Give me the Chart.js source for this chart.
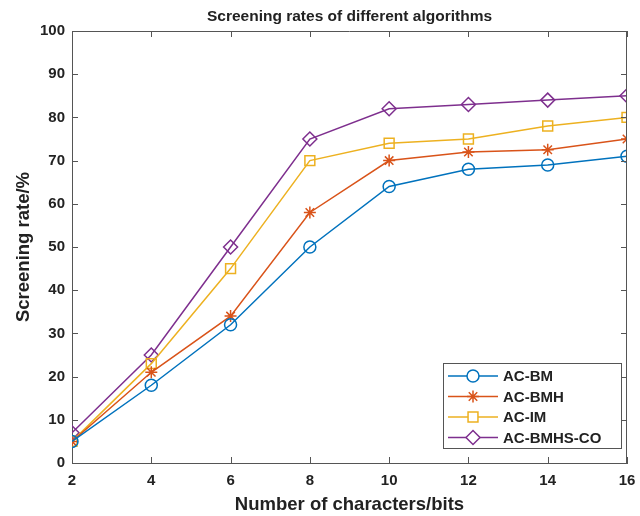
<!DOCTYPE html>
<html>
<head>
<meta charset="utf-8">
<script src="https://cdn.jsdelivr.net/npm/chart.js@4/dist/chart.umd.min.js"></script>
<style>
  html, body { margin: 0; padding: 0; background: #fff; }
  #wrap { width: 640px; height: 516px; }
</style>
</head>
<body>
<div id="wrap"><canvas id="chart" width="640" height="516"></canvas></div>
<script>
const chars = [2, 4, 6, 8, 10, 12, 14, 16];
const acBM = [5, 18, 32, 50, 64, 68, 69, 71];
const acBMH = [5, 21, 34, 58, 70, 72, 72.5, 75];
const acIM = [5, 23, 45, 70, 74, 75, 78, 80];
const acBMHSCO = [7, 25, 50, 75, 82, 83, 84, 85];

const FONT = "'Liberation Sans', Arial, sans-serif";
const AXIS = "#555";
const TEXT = "#222";

const series = [
  { label: "AC-BM", data: acBM, color: "#0072BD", style: "circle", r: 6 },
  { label: "AC-BMH", data: acBMH, color: "#D95319", style: "star", r: 6 },
  { label: "AC-IM", data: acIM, color: "#EDB120", style: "rect", r: 7 },
  { label: "AC-BMHS-CO", data: acBMHSCO, color: "#7E2F8E", style: "rectRot", r: 7 }
];

// box, inward ticks, title and legend the matlab way
const matlabAxes = {
  id: "matlabAxes",
  afterDraw(chart) {
    const ctx = chart.ctx;
    const a = chart.chartArea;
    const xs = chart.scales.x, ys = chart.scales.y;
    ctx.save();
    ctx.strokeStyle = AXIS;
    ctx.lineWidth = 1;
    ctx.beginPath();
    ctx.moveTo(a.left, a.top + 0.5); ctx.lineTo(a.right, a.top + 0.5);
    ctx.moveTo(a.right - 0.5, a.top); ctx.lineTo(a.right - 0.5, a.bottom);
    xs.ticks.forEach(t => {
      const px = Math.round(xs.getPixelForValue(t.value)) + 0.5;
      ctx.moveTo(px, a.bottom); ctx.lineTo(px, a.bottom - 6);
      ctx.moveTo(px, a.top); ctx.lineTo(px, a.top + 6);
    });
    ys.ticks.forEach(t => {
      const py = Math.round(ys.getPixelForValue(t.value)) + 0.5;
      ctx.moveTo(a.left, py); ctx.lineTo(a.left + 6, py);
      ctx.moveTo(a.right, py); ctx.lineTo(a.right - 6, py);
    });
    ctx.stroke();

    ctx.fillStyle = TEXT;
    ctx.font = "bold 15.5px " + FONT;
    ctx.textAlign = "center";
    ctx.textBaseline = "middle";
    ctx.fillText("Screening rates of different algorithms", (a.left + a.right) / 2, 17);

    // legend box
    const bx = a.right - 184, by = a.bottom - 100, bw = 178, bh = 85;
    ctx.fillStyle = "#fff";
    ctx.fillRect(bx, by, bw, bh);
    ctx.strokeStyle = AXIS;
    ctx.strokeRect(bx + 0.5, by + 0.5, bw, bh);
    ctx.font = "bold 15px " + FONT;
    ctx.textAlign = "left";
    series.forEach((s, i) => {
      const y = by + 13 + i * 20.5;
      ctx.strokeStyle = s.color;
      ctx.lineWidth = 1.5;
      ctx.beginPath();
      ctx.moveTo(bx + 5, y); ctx.lineTo(bx + 55, y);
      ctx.stroke();
      ctx.fillStyle = "#fff";
      Chart.helpers.drawPoint(ctx, {
        pointStyle: s.style, radius: s.r, rotation: 0, borderWidth: 1.5
      }, bx + 30, y);
      ctx.fillStyle = TEXT;
      ctx.fillText(s.label, bx + 60, y + 1);
    });
    ctx.restore();
  }
};

new Chart(document.getElementById("chart"), {
  type: "line",
  data: {
    datasets: series.map(s => ({
      label: s.label,
      data: chars.map((c, i) => ({ x: c, y: s.data[i] })),
      borderColor: s.color,
      borderWidth: 1.5,
      backgroundColor: "transparent",
      pointStyle: s.style,
      pointRadius: s.r,
      pointBorderWidth: 1.5,
      pointBorderColor: s.color,
      pointBackgroundColor: "transparent",
      tension: 0
    }))
  },
  options: {
    responsive: false,
    animation: false,
    layout: { padding: { top: 31, right: 13, left: 0, bottom: 0 } },
    plugins: { legend: { display: false }, tooltip: { enabled: false } },
    scales: {
      x: {
        type: "linear",
        min: 2,
        max: 16,
        grid: { display: false, drawTicks: false },
        border: { color: AXIS, width: 1 },
        ticks: { stepSize: 2, color: TEXT, padding: 9, font: { family: FONT, size: 15, weight: "bold" } },
        title: { display: true, text: "Number of characters/bits", color: TEXT, padding: { top: 4, bottom: 0 }, font: { family: FONT, size: 18.5, weight: "bold" } },
        afterFit: s => { s.height = 53; s.paddingLeft = 0; s.paddingRight = 0; }
      },
      y: {
        min: 0,
        max: 100,
        grid: { display: false, drawTicks: false },
        border: { color: AXIS, width: 1 },
        ticks: { stepSize: 10, color: TEXT, padding: 7, font: { family: FONT, size: 15, weight: "bold" } },
        title: { display: true, text: "Screening rate/%", color: TEXT, padding: { top: 13 }, font: { family: FONT, size: 18.5, weight: "bold" } },
        afterFit: s => { s.width = 72; s.paddingTop = 0; s.paddingBottom = 0; }
      }
    }
  },
  plugins: [matlabAxes]
});
</script>
</body>
</html>
